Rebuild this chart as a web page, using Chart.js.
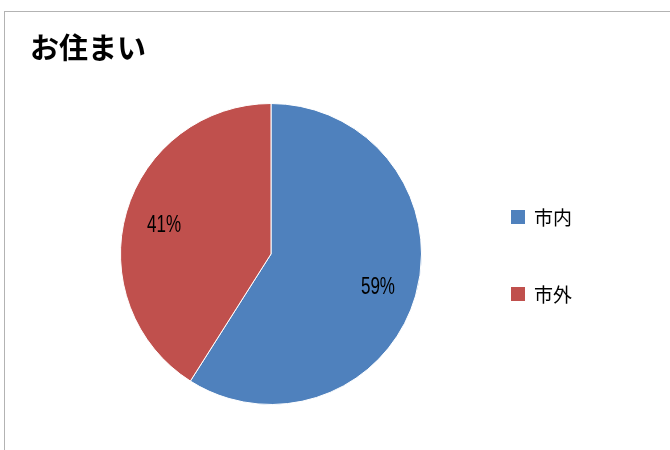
<!DOCTYPE html>
<html>
<head>
<meta charset="utf-8">
<script src="https://cdn.jsdelivr.net/npm/chart.js@4"></script>
<style>
  html, body { margin: 0; padding: 0; background: #fff; }
  #wrap { position: relative; width: 670px; height: 450px; overflow: hidden; }
  #frame { position: absolute; left: 4px; top: 11px; width: 700px; height: 500px; border-left: 1.5px solid #b3b3b3; border-top: 1.5px solid #b3b3b3; box-sizing: border-box; }
  canvas { position: absolute; left: 0; top: 0; }
</style>
</head>
<body>
<div id="wrap">
  <div id="frame"></div>
  <canvas id="c" width="670" height="450"></canvas>
</div>
<script>
const titleText = 'お住まい';
const categories = ['市内', '市外'];
const values = [59, 41];
const colors = ['#4F81BD', '#C0504D'];

const jpFont = '"Noto Sans CJK JP", "Noto Sans", sans-serif';
const numFont = '"Liberation Sans", "DejaVu Sans", sans-serif';

const overlay = {
  id: 'overlay',
  afterDraw(chart) {
    const ctx = chart.ctx;
    ctx.save();
    // title
    ctx.fillStyle = '#000';
    ctx.font = 'bold 29px ' + jpFont;
    ctx.textAlign = 'left';
    ctx.textBaseline = 'middle';
    ctx.fillText(titleText, 30, 48);

    // percentage labels (condensed look)
    const meta = chart.getDatasetMeta(0);
    const total = values.reduce((a, b) => a + b, 0);
    ctx.font = '23px ' + numFont;
    ctx.textAlign = 'center';
    ctx.textBaseline = 'middle';
    meta.data.forEach((arc, i) => {
      const p = arc.getProps(['x', 'y', 'startAngle', 'endAngle', 'outerRadius'], true);
      const mid = (p.startAngle + p.endAngle) / 2;
      const r = p.outerRadius * 0.74;
      const pct = Math.round(values[i] / total * 100) + '%';
      const tx = p.x + Math.cos(mid) * r;
      const ty = p.y + Math.sin(mid) * r + 3;
      ctx.save();
      ctx.translate(tx, ty);
      ctx.scale(0.74, 1);
      ctx.fillStyle = '#000';
      ctx.fillText(pct, 0, 0);
      ctx.restore();
    });

    // legend
    const lx = 511, ly0 = 210, step = 77, box = 14;
    ctx.textAlign = 'left';
    ctx.font = '19px ' + jpFont;
    categories.forEach((c, i) => {
      const y = ly0 + i * step;
      ctx.fillStyle = colors[i];
      ctx.fillRect(lx, y, box, box);
      ctx.fillStyle = '#000';
      ctx.fillText(c, lx + 23, y + box / 2 + 1);
    });
    ctx.restore();
  }
};

new Chart(document.getElementById('c'), {
  type: 'pie',
  data: {
    labels: categories,
    datasets: [{
      data: values,
      backgroundColor: colors,
      borderColor: '#ffffff',
      borderWidth: 1
    }]
  },
  options: {
    responsive: false,
    animation: false,
    layout: { padding: { top: 103, bottom: 45, left: 120, right: 248 } },
    plugins: {
      legend: { display: false },
      tooltip: { enabled: false },
      title: { display: false }
    }
  },
  plugins: [overlay]
});
</script>
</body>
</html>
